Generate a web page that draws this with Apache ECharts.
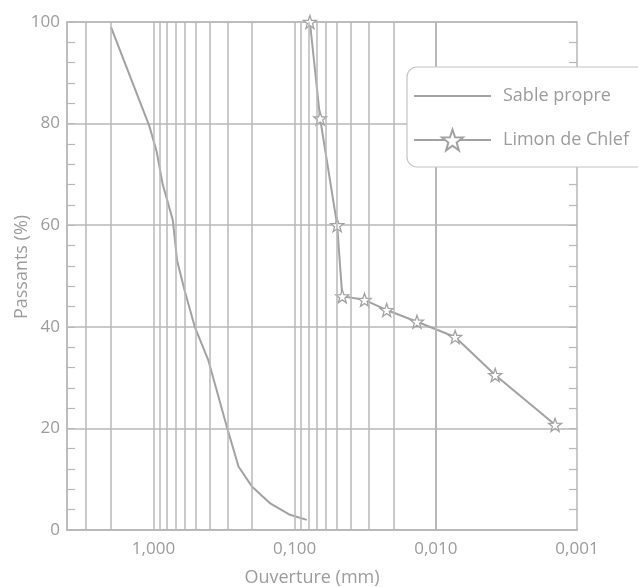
<!DOCTYPE html>
<html>
<head>
<meta charset="utf-8">
<script src="https://cdn.jsdelivr.net/npm/echarts@6/dist/echarts.min.js"></script>
<style>
  html, body { margin: 0; padding: 0; background: #fff; }
  #chart { width: 638px; height: 587px; }
</style>
</head>
<body>
<div id="chart"></div>
<script>
// Sable propre : ouverture (mm) / passants (%)
var sableOuverture = [2.0, 1.07, 0.95, 0.86, 0.73, 0.68, 0.60, 0.51, 0.41, 0.30, 0.25, 0.20, 0.15, 0.108, 0.082];
var sablePassants  = [99, 79.5, 74.5, 68, 61, 53, 47, 40, 33.5, 20, 12.5, 8.5, 5.3, 3, 2];

// Limon de Chlef : ouverture (mm) / passants (%)
var limonOuverture = [0.078, 0.066, 0.050, 0.046, 0.032, 0.0223, 0.0136, 0.0073, 0.0038, 0.00143];
var limonPassants  = [100, 81, 60, 46, 45.3, 43.3, 41, 38, 30.5, 20.7];

// Axis ticks
var xTickValues = [1, 0.1, 0.01, 0.001];
var xTickLabels = ['1,000', '0,100', '0,010', '0,001'];
var xGridValues = [3, 2, 1, 0.9, 0.8, 0.7, 0.6, 0.5, 0.4, 0.3, 0.2,
                   0.1, 0.09, 0.08, 0.07, 0.06, 0.05, 0.04, 0.03, 0.02,
                   0.01, 0.009, 0.008, 0.007, 0.006, 0.005, 0.004, 0.003, 0.002];
var yMin = 0, yMax = 100, yInterval = 20;

var gridColor = '#b8b8b8';
var textColor = '#9c9c9c';
var lineColor = '#a2a2a2';
var starPath = 'path://M50,0 L61.76,33.82 L97.55,34.55 L69.02,56.18 L79.39,90.45 L50,70 L20.61,90.45 L30.98,56.18 L2.45,34.55 L38.24,33.82 Z';
var fontFam = '"Open Sans", "Noto Sans", sans-serif';

function zip(xs, ys) { return xs.map(function (x, i) { return [x, ys[i]]; }); }

var chart = echarts.init(document.getElementById('chart'), null, { renderer: 'canvas' });
chart.setOption({
  animation: false,
  backgroundColor: '#fff',
  grid: { left: 67, right: 61, top: 22, bottom: 57, containLabel: false, outerBoundsMode: 'none',
          show: true, borderColor: gridColor, borderWidth: 1.5, backgroundColor: 'transparent' },
  legend: {
    orient: 'vertical',
    left: 407, top: 67,
    padding: [17, 20, 15, 6],
    itemGap: 20,
    itemWidth: 77,
    itemHeight: 26,
    backgroundColor: '#fff',
    borderColor: '#c4c4c4',
    borderWidth: 1.2,
    borderRadius: 10,
    z: 10,
    data: [
      { name: 'Sable propre', itemStyle: { opacity: 0 } },
      { name: 'Limon de Chlef' }
    ],
    textStyle: { color: textColor, fontSize: 18, fontFamily: fontFam, lineHeight: 24, padding: [0, 0, 0, 7] }
  },
  xAxis: {
    type: 'log',
    logBase: 10,
    min: 0.001,
    max: 4.1,
    inverse: true,
    name: 'Ouverture (mm)',
    nameLocation: 'middle',
    nameGap: 39,
    nameMoveOverlap: false,
    nameTextStyle: { color: textColor, fontSize: 18, fontFamily: fontFam, padding: [0, 20, 0, 0] },
    axisLine: { show: true, lineStyle: { color: gridColor, width: 1.5 } },
    axisTick: { show: false },
    splitLine: { show: false },
    minorTick: { show: false },
    axisLabel: {
      color: textColor, fontSize: 17, fontFamily: fontFam, margin: 11,
      showMinLabel: true, showMaxLabel: true,
      formatter: function (v) {
        for (var i = 0; i < xTickValues.length; i++) {
          if (Math.abs(v - xTickValues[i]) / xTickValues[i] < 1e-6) return xTickLabels[i];
        }
        return '';
      }
    }
  },
  yAxis: [{
    type: 'value',
    min: yMin, max: yMax, interval: yInterval,
    name: 'Passants (%)',
    nameLocation: 'middle',
    nameGap: 36,
    nameMoveOverlap: false,
    nameTextStyle: { color: textColor, fontSize: 18, fontFamily: fontFam, padding: [0, 0, 0, 18] },
    axisLine: { show: true, lineStyle: { color: gridColor, width: 1.5 } },
    axisTick: { show: true, inside: true, length: 8, lineStyle: { color: gridColor } },
    minorTick: { show: true, splitNumber: 5, length: 8, lineStyle: { color: gridColor, width: 1.2 } },
    splitLine: { show: true, lineStyle: { color: gridColor, width: 1.5 } },
    axisLabel: { color: textColor, fontSize: 17, fontFamily: fontFam, margin: 7 }
  }, {
    type: 'value',
    position: 'right',
    min: yMin, max: yMax, interval: yInterval,
    axisLine: { show: false },
    axisTick: { show: true, inside: true, length: 8, lineStyle: { color: gridColor } },
    minorTick: { show: true, splitNumber: 5, length: 8, lineStyle: { color: gridColor, width: 1.2 } },
    splitLine: { show: false },
    axisLabel: { show: false }
  }],
  series: [{
    name: 'grille',
    type: 'line',
    data: [],
    silent: true,
    z: 1,
    markLine: {
      silent: true,
      symbol: 'none',
      animation: false,
      label: { show: false },
      lineStyle: { color: gridColor, width: 1.5, type: 'solid' },
      emphasis: { disabled: true },
      data: xGridValues.map(function (v) { return { xAxis: v }; })
    }
  }, {
    name: 'Sable propre',
    type: 'line',
    z: 3,
    data: zip(sableOuverture, sablePassants),
    showSymbol: false,
    symbol: 'none',
    lineStyle: { color: lineColor, width: 2 },
    itemStyle: { color: lineColor }
  }, {
    name: 'Limon de Chlef',
    type: 'line',
    z: 3,
    data: zip(limonOuverture, limonPassants),
    symbol: starPath,
    symbolSize: 13,
    lineStyle: { color: lineColor, width: 2 },
    itemStyle: { color: '#fff', borderColor: lineColor, borderWidth: 1.3 }
  }]
});
</script>
</body>
</html>
